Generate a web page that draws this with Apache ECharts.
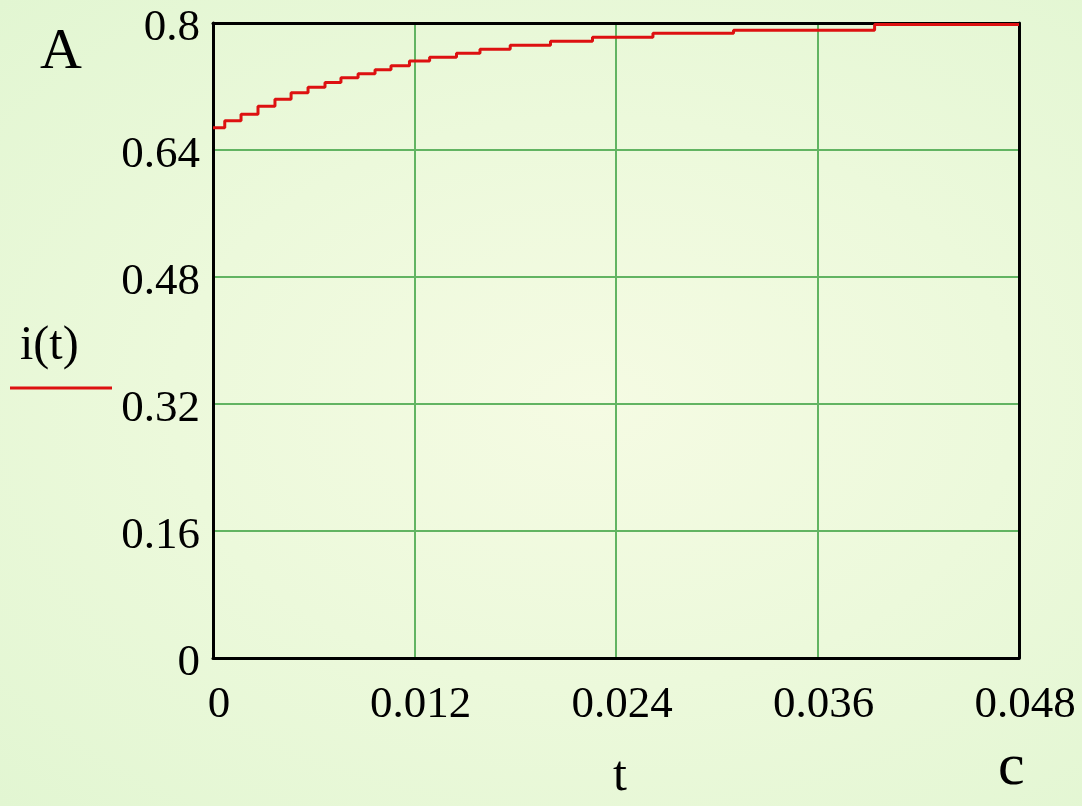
<!DOCTYPE html>
<html>
<head>
<meta charset="utf-8">
<script src="https://cdn.jsdelivr.net/npm/echarts@6/dist/echarts.min.js"></script>
<style>
html,body{margin:0;padding:0;}
#c{width:1082px;height:806px;background:radial-gradient(ellipse at 55% 50%, #f5fbe3 0%, #ecf9db 50%, #e2f6d2 100%);}
</style>
</head>
<body>
<div id="c"></div>
<script>
// time t (s)
var tValues = [0, 0.0007, 0.00167, 0.00268, 0.00369, 0.00465, 0.00566, 0.00667, 0.00762, 0.00864, 0.00965, 0.0106, 0.0117, 0.0129, 0.0145, 0.0159, 0.0177, 0.0201, 0.0226, 0.0262, 0.0310, 0.0394, 0.048];
// current i(t) (A)
var iValues = [0.668, 0.677, 0.685, 0.695, 0.704, 0.712, 0.719, 0.725, 0.731, 0.736, 0.741, 0.746, 0.752, 0.757, 0.762, 0.767, 0.772, 0.777, 0.782, 0.787, 0.791, 0.798, 0.798];
var xTickLabels = ['0', '0.012', '0.024', '0.036', '0.048'];
var yTickLabels = ['0', '0.16', '0.32', '0.48', '0.64', '0.8'];

var serif = '"Liberation Serif", "DejaVu Serif", serif';
var chart = echarts.init(document.getElementById('c'), null, {renderer: 'canvas'});
var data = tValues.map(function (t, k) { return [t, iValues[k]]; });
var frame = {show: true, onZero: false, lineStyle: {color: '#000', width: 3}};

chart.setOption({
  backgroundColor: 'transparent',
  animation: false,
  grid: {left: 213, right: 63, top: 23, bottom: 148},
  xAxis: [{
    type: 'value', min: 0, max: 0.048, interval: 0.012, position: 'bottom',
    axisLine: frame, axisTick: {show: false},
    splitLine: {show: true, lineStyle: {color: '#62b462', width: 2}},
    axisLabel: {
      margin: 25, color: '#000', fontFamily: serif, fontSize: 45, padding: [0, 0, 0, 12],
      formatter: function (v) { return xTickLabels[Math.round(v / 0.012)]; }
    }
  }, {
    type: 'value', min: 0, max: 0.048, interval: 0.012, position: 'top',
    axisLine: frame, axisTick: {show: false}, axisLabel: {show: false}, splitLine: {show: false}
  }],
  yAxis: [{
    type: 'value', min: 0, max: 0.8, interval: 0.16, position: 'left',
    axisLine: frame, axisTick: {show: false},
    splitLine: {show: true, lineStyle: {color: '#62b462', width: 2}},
    axisLabel: {
      margin: 13, color: '#000', fontFamily: serif, fontSize: 45, verticalAlign: 'top', lineHeight: 10,
      formatter: function (v) { return yTickLabels[Math.round(v / 0.16)]; }
    }
  }, {
    type: 'value', min: 0, max: 0.8, interval: 0.16, position: 'right',
    axisLine: frame, axisTick: {show: false}, axisLabel: {show: false}, splitLine: {show: false}
  }],
  graphic: [
    {type: 'text', left: 40, top: 24, style: {text: 'A', font: '58px ' + serif, fill: '#000'}},
    {type: 'text', left: 20, top: 322, style: {text: 'i(t)', font: '48px ' + serif, fill: '#000'}},
    {type: 'line', shape: {x1: 10, y1: 388, x2: 112, y2: 388}, style: {stroke: '#dd1111', lineWidth: 3}},
    {type: 'text', left: 613, top: 752, style: {text: 't', font: '50px ' + serif, fill: '#000'}},
    {type: 'text', left: 998, top: 738, style: {text: 'c', font: '60px ' + serif, fill: '#000'}}
  ],
  series: [{
    type: 'line', data: data, step: 'end', showSymbol: false, xAxisIndex: 0, yAxisIndex: 0,
    lineStyle: {color: '#dd1111', width: 3}, z: 5
  }]
});
</script>
</body>
</html>
